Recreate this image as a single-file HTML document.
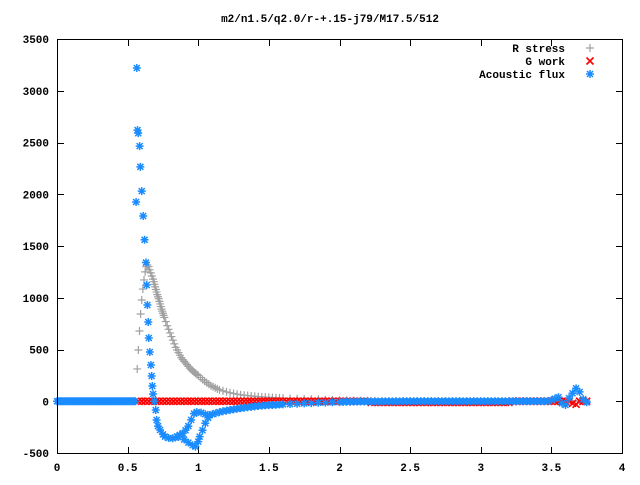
<!DOCTYPE html>
<html><head><meta charset="utf-8"><style>
body{margin:0;background:#fff}
svg text{font-family:"Liberation Mono",monospace;font-size:11px;font-weight:bold;fill:#000}
</style></head><body>
<svg id="chart" width="640" height="480" xmlns="http://www.w3.org/2000/svg">
<rect x="0" y="0" width="640" height="480" fill="#fff"/>
<text x="330" y="22" text-anchor="middle">m2/n1.5/q2.0/r-+.15-j79/M17.5/512</text>
<g id="axes"></g>
<g id="marks"></g>
<g id="legend">
<text x="565" y="52" text-anchor="end">R stress</text>
<text x="565" y="65" text-anchor="end">G work</text>
<text x="565" y="78" text-anchor="end">Acoustic flux</text>
</g>
<rect x="57.5" y="39.5" width="565" height="414" fill="none" stroke="#000" stroke-width="1"/>
</svg>
<script>
const xTicks=[0,0.5,1,1.5,2,2.5,3,3.5,4];
const xTickLabels=["0","0.5","1","1.5","2","2.5","3","3.5","4"];
const yTicks=[-500,0,500,1000,1500,2000,2500,3000,3500];
const yTickLabels=["-500","0","500","1000","1500","2000","2500","3000","3500"];
const rStressX=[0.568,0.576,0.584,0.592,0.60,0.608,0.616,0.624,0.632,0.64,0.648,0.656,0.664,0.672,0.68,0.685,0.69,0.695,0.70,0.705,0.71,0.715,0.72,0.725,0.73,0.735,0.74,0.745,0.75,0.755,0.76,0.77,0.78,0.79,0.80,0.81,0.82,0.83,0.84,0.85,0.86,0.87,0.88,0.89,0.90,0.91,0.92,0.93,0.94,0.95,0.96,0.97,0.98,0.99,1.0,1.015,1.03,1.045,1.06,1.075,1.09,1.105,1.12,1.135,1.15,1.175,1.2,1.225,1.25,1.275,1.3,1.325,1.35,1.375,1.4,1.425,1.45,1.475,1.5,1.525,1.55,1.575,1.6,1.65,1.7,1.75,1.8,1.85,1.9,1.95,2.0,2.05,2.1,2.15,2.2,2.25,2.3,2.35,2.4,2.45,2.5,2.55,2.6,2.65,2.7,2.75,2.8,2.85,2.9,2.95,3.0,3.05,3.1,3.15,3.2,3.25,3.3,3.35,3.4,3.45,3.5,3.55,3.6,3.65,3.7,3.75];
const rStressY=[312,495,679,843,978,1084,1172,1250,1300,1317,1300,1270,1240,1210,1180,1155,1130,1105,1080,1055,1030,1010,990,965,940,915,890,870,850,830,810,770,730,695,660,625,590,555,520,495,470,445,420,402,385,370,355,337,320,307,295,282,270,260,250,230,210,195,180,165,150,140,130,120,110,100,90,82,75,68,62,58,55,51,48,45,42,40,38,36,34,32,30,27,24,22,20,18,15,12,10,8,7,6,5,4,3,3,2,2,2,1,1,1,1,1,0,0,0,0,0,0,0,0,0,0,0,0,0,0,0,0,0,0,0,0];
const gWorkStart=0.575, gWorkStep=0.025;
const gWorkY=[0,0,0,0,0,0,0,0,0,0,0,0,0,0,0,0,0,0,0,0,0,0,0,0,0,0,0,0,0,0,0,0,0,0,0,0,0,0,0,0,0,0,0,0,0,0,0,0,0,0,0,0,0,0,0,0,0,0,0,0,0,0,0,0,0,0,-12,-12,-12,-12,-12,-12,-12,-12,-12,-12,-12,-12,-12,-12,-12,-12,-12,-12,-12,-12,-12,-12,-12,-12,-12,-12,-12,-12,-12,-12,-12,-12,-12,-12,-12,-12,-12,-12,-12,-12,0,0,0,0,0,0,0,0,0,0,0,0,0,0,0,0,0,-20,-30,0,0,0];
const fluxPreStart=0, fluxPreStep=0.01;
const fluxPreY=[0,0,0,0,0,0,0,0,0,0,0,0,0,0,0,0,0,0,0,0,0,0,0,0,0,0,0,0,0,0,0,0,0,0,0,0,0,0,0,0,0,0,0,0,0,0,0,0,0,0,0,0,0,0,0,0];
const fluxMidX=[0.56,0.565,0.57,0.575,0.585,0.59,0.60,0.61,0.62,0.63,0.635,0.64,0.646,0.65,0.657,0.665,0.67,0.675,0.68,0.69,0.699,0.705,0.715,0.73,0.75,0.765,0.79,0.82,0.85,0.87,0.89,0.91,0.93,0.95,0.97,0.99,1.02,1.05,1.08,0.86,0.9,0.93,0.96,0.98,1.0,1.01,1.03,1.05,1.07,1.1,1.125,1.15,1.175,1.2,1.225,1.25,1.275,1.3,1.325,1.35,1.375,1.4,1.425,1.45,1.475,1.5,1.525,1.55,1.575,1.6,1.65,1.7,1.75,1.8,1.85,1.9,1.95,2.0];
const fluxMidY=[1925,3220,2620,2590,2465,2265,2030,1790,1560,1340,1123,930,766,611,476,350,244,147,70,0,-85,-181,-240,-278,-320,-342,-355,-358,-340,-325,-310,-280,-240,-180,-120,-105,-110,-125,-133,-345,-370,-400,-425,-438,-390,-342,-280,-212,-160,-125,-115,-105,-97,-90,-84,-78,-73,-68,-63,-58,-54,-50,-46,-42,-40,-38,-36,-35,-32,-30,-27,-24,-21,-18,-15,-13,-10,-8];
const fluxTailStart=2.025, fluxTailStep=0.025;
const fluxTailY=[-6,-5,-5,-4,-4,-3,-3,-3,-2,-2,-2,-2,-1,-1,-1,-1,-1,0,0,0,0,0,0,0,0,0,0,0,0,0,0,0,0,0,0,0,0,0,0,0,0,0,0,0,0,0,0,0,0,0,0,0,0,0,0,0,0,0,0,10,25,40,-20,-36,30,77,125,90,20,-10];

const X0=57, PXX=141.25, Y0=401.25, PXY=0.1035;
function xs(v){return X0+v*PXX;}
function ys(v){return Y0-v*PXY;}
const NS="http://www.w3.org/2000/svg";
const axes=document.getElementById('axes');
const marks=document.getElementById('marks');
function mk(tag,attrs,parent){const e=document.createElementNS(NS,tag);for(const k in attrs)e.setAttribute(k,attrs[k]);parent.appendChild(e);return e;}

xTicks.forEach((t,i)=>{
  const x=Math.round(xs(t))+0.5;
  const a=mk('line',{x1:x,y1:453,x2:x,y2:447,stroke:'#000'},axes);
  
  
  const b=mk('line',{x1:x,y1:40,x2:x,y2:46,stroke:'#000'},axes);
  
  
  const l=mk('text',{x:xs(t),y:471,'text-anchor':'middle'},axes);
  l.textContent=xTickLabels[i];
  
  
});
yTicks.forEach((t,i)=>{
  const y=Math.round(ys(t))+0.5;
  const a=mk('line',{x1:58,y1:y,x2:64,y2:y,stroke:'#000'},axes);
  
  
  const b=mk('line',{x1:622,y1:y,x2:616,y2:y,stroke:'#000'},axes);
  
  
  const l=mk('text',{x:49,y:ys(t)+4,'text-anchor':'end'},axes);
  l.textContent=yTickLabels[i];
  
  
});

function plus(x,y,c,g){return mk('path',{d:`M${x-4} ${y}H${x+4}M${x} ${y-4}V${y+4}`,stroke:c,'stroke-width':1.2,fill:'none'},g);}
function cross(x,y,c,g){return mk('path',{d:`M${x-3.5} ${y-3.5}L${x+3.5} ${y+3.5}M${x-3.5} ${y+3.5}L${x+3.5} ${y-3.5}`,stroke:c,'stroke-width':1.6,fill:'none'},g);}
function star(x,y,c,g){return mk('path',{d:`M${x-4} ${y}H${x+4}M${x} ${y-4}V${y+4}M${x-3} ${y-3}L${x+3} ${y+3}M${x-3} ${y+3}L${x+3} ${y-3}`,stroke:c,'stroke-width':1.5,fill:'none'},g);}

const GRAY='#a0a0a0', RED='#ff0000', BLUE='#1a8cff';
const gR=mk('g',{},marks);


rStressX.forEach((x,i)=>{
  const p=plus(xs(x),ys(rStressY[i]),GRAY,gR);
  
  
});
const gG=mk('g',{},marks);


gWorkY.forEach((v,i)=>{
  const p=cross(xs(gWorkStart+i*gWorkStep),ys(v),RED,gG);
  
  
});
const gA=mk('g',{},marks);


fluxPreY.forEach((v,i)=>{
  const p=star(xs(fluxPreStart+i*fluxPreStep),ys(v),BLUE,gA);
  
  
});
fluxMidX.forEach((x,i)=>{
  const p=star(xs(x),ys(fluxMidY[i]),BLUE,gA);
  
  
});
fluxTailY.forEach((v,i)=>{
  const p=star(xs(fluxTailStart+i*fluxTailStep),ys(v),BLUE,gA);
  
  
});

const lg=document.getElementById('legend');
const m1=plus(590,48,GRAY,lg);


const m2=cross(590,61,RED,lg);


const m3=star(590,74,BLUE,lg);


</script>
</body></html>
